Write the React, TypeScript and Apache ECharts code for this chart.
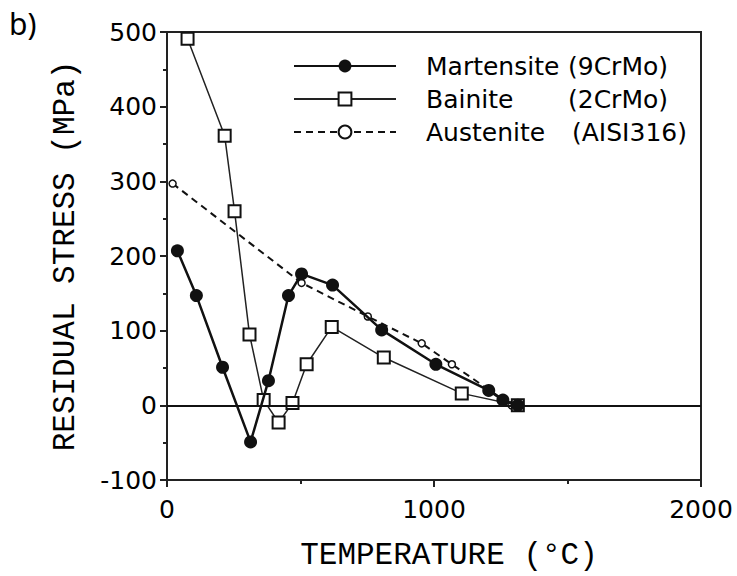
import React, { useEffect, useRef } from "react";
import * as echarts from "echarts";

// Temperature (°C) and residual stress (MPa)
const martensiteT = [39, 110, 208, 313, 380, 455, 504, 620, 804, 1007, 1205, 1258, 1314];
const martensiteS = [207, 147, 51, -49, 33, 147, 176, 161, 101, 55, 20, 7, 0];

const bainiteT = [77, 216, 253, 309, 362, 418, 470, 523, 617, 812, 1104, 1314];
const bainiteS = [491, 361, 260, 95, 7, -23, 3, 55, 105, 64, 16, 0];

const austeniteT = [21, 504, 752, 954, 1067, 1290];
const austeniteS = [297, 164, 119, 83, 55, 0];

const seriesNames = ["Martensite", "Bainite", "Austenite"];
const seriesGrades = ["(9CrMo)", "(2CrMo)", "(AISI316)"];

const xTicks = { min: 0, max: 2000, interval: 1000 };
const yTicks = { min: -100, max: 500, interval: 100 };

const zip = (a: number[], b: number[]) => a.map((v, i) => [v, b[i]]);

export default function App() {
  const ref = useRef<HTMLDivElement>(null);
  useEffect(() => {
    if (!ref.current) return;
    const chart = echarts.init(ref.current, null, { renderer: "svg" });
    const labelFont = "DejaVu Sans";
    const titleFont = "Liberation Mono";
    const ink = "#000";
    chart.setOption({
      animation: false,
      backgroundColor: "#ffffff",
      grid: {
        left: 167,
        right: 36,
        top: 32,
        bottom: 93,
        show: true,
        borderColor: "#222",
        borderWidth: 2,
        backgroundColor: "transparent",
      },
      legend: {
        orient: "vertical",
        left: 288,
        top: 48,
        itemWidth: 102,
        itemHeight: 16,
        itemGap: 7,
        selectedMode: false,
        data: seriesNames,
        formatter: (name: string) => {
          const i = seriesNames.indexOf(name);
          const key = i === 2 ? "a2" : "a";
          return `{g|}{${key}|${name}}{b|${seriesGrades[i]}}`;
        },
        textStyle: {
          fontFamily: labelFont,
          fontSize: 25,
          color: ink,
          lineHeight: 26,
          height: 26,
          rich: {
            g: { width: 25 },
            a: { width: 142, fontFamily: labelFont, fontSize: 25, color: ink },
            a2: { width: 146, fontFamily: labelFont, fontSize: 25, color: ink },
            b: { fontFamily: labelFont, fontSize: 25, color: ink },
          },
        },
      },
      xAxis: {
        type: "value",
        min: xTicks.min,
        max: xTicks.max,
        interval: xTicks.interval,
        name: "TEMPERATURE (°C)",
        nameLocation: "middle",
        nameGap: 60,
        nameTextStyle: {
          fontFamily: titleFont,
          fontSize: 31,
          color: ink,
          padding: [0, 0, 0, 30],
        },
        axisLine: { show: true, onZero: false, lineStyle: { color: "#222", width: 2 } },
        axisTick: { show: true, inside: false, length: 7, lineStyle: { color: "#222", width: 2 } },
        minorTick: { show: true, splitNumber: 2, length: 4, lineStyle: { color: "#222", width: 2 } },
        axisLabel: {
          fontFamily: labelFont,
          fontSize: 25,
          color: ink,
          margin: 17,
          formatter: (v: number) => String(v),
        },
        splitLine: { show: false },
      },
      yAxis: {
        type: "value",
        min: yTicks.min,
        max: yTicks.max,
        interval: yTicks.interval,
        name: "RESIDUAL STRESS (MPa)",
        nameLocation: "middle",
        nameGap: 86,
        nameTextStyle: { fontFamily: titleFont, fontSize: 31, color: ink },
        axisLine: { show: true, onZero: false, lineStyle: { color: "#222", width: 2 } },
        axisTick: { show: true, inside: false, length: 7, lineStyle: { color: "#222", width: 2 } },
        minorTick: { show: true, splitNumber: 2, length: 4, lineStyle: { color: "#222", width: 2 } },
        axisLabel: {
          fontFamily: labelFont,
          fontSize: 25,
          color: ink,
          margin: 10,
          formatter: (v: number) => String(v),
        },
        splitLine: { show: false },
      },
      graphic: [
        {
          type: "text",
          left: 9,
          top: 8,
          style: { text: "b)", fontFamily: "Noto Sans", fontSize: 30, fill: ink },
        },
      ],
      series: [
        {
          name: "Austenite",
          type: "line",
          data: zip(austeniteT, austeniteS),
          symbol: "circle",
          symbolSize: 7,
          z: 2,
          lineStyle: { color: "#111", width: 2, type: [7, 5] },
          itemStyle: { color: "#fff", borderColor: "#111", borderWidth: 1.5 },
        },
        {
          name: "Bainite",
          type: "line",
          data: zip(bainiteT, bainiteS),
          symbol: "rect",
          symbolSize: 12,
          z: 3,
          lineStyle: { color: "#222", width: 1.5 },
          itemStyle: { color: "#fff", borderColor: "#111", borderWidth: 2 },
        },
        {
          name: "Martensite",
          type: "line",
          data: zip(martensiteT, martensiteS),
          symbol: "circle",
          symbolSize: 13,
          z: 4,
          lineStyle: { color: "#111", width: 2.5 },
          itemStyle: { color: "#111" },
          markLine: {
            silent: true,
            symbol: "none",
            label: { show: false },
            lineStyle: { color: "#111", width: 2, type: "solid" },
            data: [{ yAxis: 0 }],
          },
        },
      ],
    });
    return () => chart.dispose();
  }, []);
  return (
    <div
      ref={ref}
      style={{ position: "fixed", left: 0, top: 0, width: 737, height: 576, background: "#fff" }}
    />
  );
}
